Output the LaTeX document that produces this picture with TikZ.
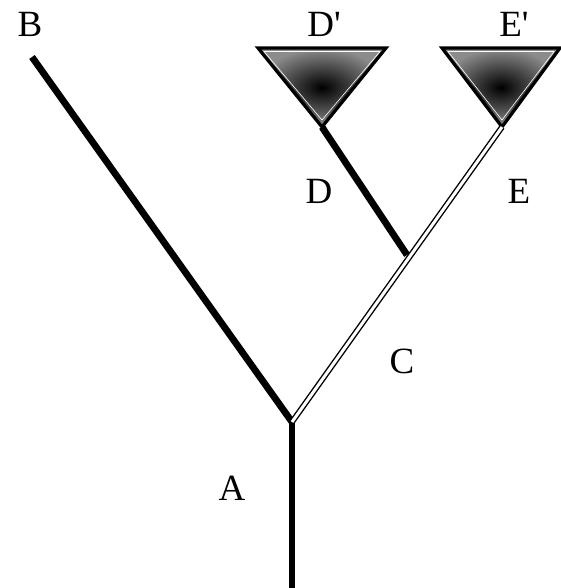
\documentclass[tikz,border=0pt]{standalone}
\usepackage{fontspec}
\setmainfont{Liberation Serif}[Ligatures=TeXOff]
\usetikzlibrary{calc}
\begin{document}
\begin{tikzpicture}[x=1pt,y=-1pt,
  lbl/.style={font=\fontsize{37}{37}\selectfont, inner sep=0pt},
  thick branch/.style={line width=6.8pt},
  hollow branch/.style={double=white, double distance=3pt, line width=1.4pt},
  clade/.style={draw=black, line width=3.2pt, line join=miter, inner color=black, outer color=black!45}]
\useasboundingbox (0,0) rectangle (561,588);
\coordinate (root) at (292,588);
\coordinate (j) at (292,422);
\coordinate (b) at (32,57);
\coordinate (e) at (502,127);
\coordinate (dj) at (407,255);
\coordinate (d) at (322,127);
% triangles
\coordinate (d1) at (258,48); \coordinate (d2) at (386,48);
\coordinate (e1) at (442,48); \coordinate (e2) at (560,48);
\shade[clade] (d1) -- (d2) -- (d) -- cycle;
\draw[white, line width=0.6pt] ($(d1)+(6,3.5)$) -- ($(d2)+(-6,3.5)$) -- ($(d)+(0,-7)$) -- cycle;
\shade[clade] (e1) -- (e2) -- (e) -- cycle;
\draw[white, line width=0.6pt] ($(e1)+(6,3.5)$) -- ($(e2)+(-6,3.5)$) -- ($(e)+(0,-7)$) -- cycle;
% branches
\draw[thick branch] (root) -- (j);
\draw[thick branch] (j) -- (b);
\draw[thick branch] (dj) -- (d);
\draw[hollow branch] (j) -- (e);
% labels
\node[lbl] (lB) at (30,24) {B};
\node[lbl] (lDp) at (324,24) {D'};
\node[lbl] (lEp) at (514,24) {E'};
\node[lbl] (lD) at (319,191) {D};
\node[lbl] (lE) at (519,191) {E};
\node[lbl] (lC) at (402,361) {C};
\node[lbl] (lA) at (232,488) {A};
\end{tikzpicture}
\end{document}
